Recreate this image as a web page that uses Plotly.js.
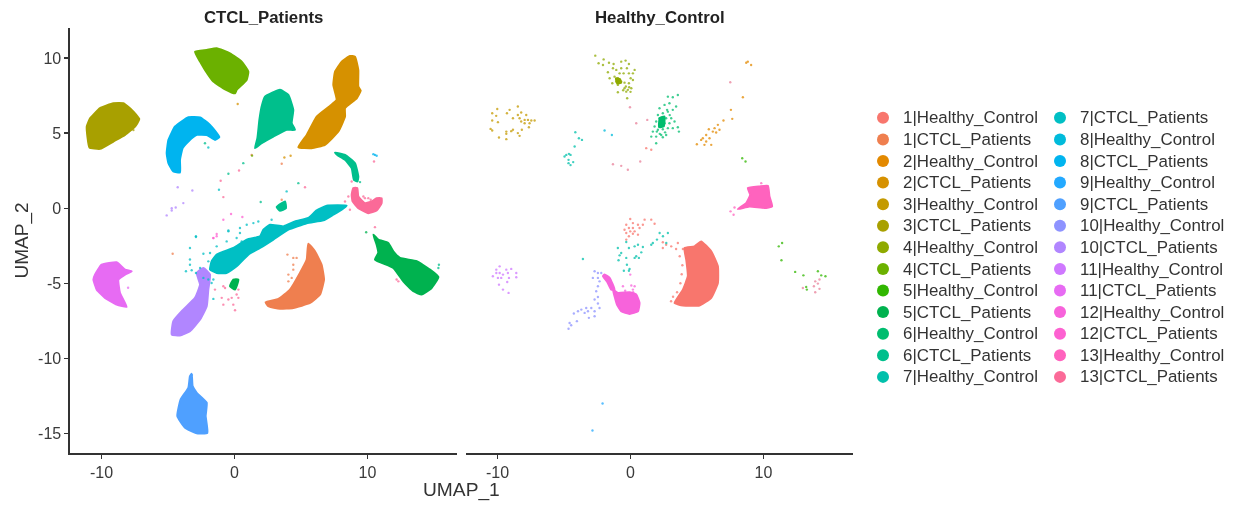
<!DOCTYPE html>
<html><head><meta charset="utf-8">
<script src="https://cdn.plot.ly/plotly-3.0.1.min.js"></script>
<style>html,body{margin:0;padding:0;background:#fff}#chart{width:1236px;height:506px;filter:blur(0.55px)}
#chart .legendtext,#chart .legend2text{font-size:16.9px !important}
#chart .scrollbox{clip-path:none !important}
#chart .legendpoints path{opacity:1 !important}
</style>
</head><body><div id="chart"></div>
<script>
const legendLabels=["1|Healthy_Control","1|CTCL_Patients","2|Healthy_Control","2|CTCL_Patients","3|Healthy_Control","3|CTCL_Patients","4|Healthy_Control","4|CTCL_Patients","5|Healthy_Control","5|CTCL_Patients","6|Healthy_Control","6|CTCL_Patients","7|Healthy_Control","7|CTCL_Patients","8|Healthy_Control","8|CTCL_Patients","9|Healthy_Control","9|CTCL_Patients","10|Healthy_Control","10|CTCL_Patients","11|Healthy_Control","11|CTCL_Patients","12|Healthy_Control","12|CTCL_Patients","13|Healthy_Control","13|CTCL_Patients"];
const palette=["#F8766D","#EF7F4F","#E38900","#D69100","#C49A00","#A8A000","#8FAA00","#6BB100","#31B700","#00B24F","#00BD6F","#00BF8C","#00C0AB","#00BFC4","#00BBDB","#00B4EF","#23A9FF","#4FA0FF","#8E93FF","#B186FF","#CF78FF","#E76BF3","#F763DB","#FD61D1","#FF63BE","#FB6A98"];

/* Cluster outlines, [UMAP_1, UMAP_2] */
const body1Ctcl=[[5.55,-2.36],[6.05,-2.87],[6.55,-3.76],[6.73,-4.75],[6.43,-5.75],[5.68,-6.31],[4.42,-6.64],[3.42,-6.7],[2.54,-6.53],[2.34,-6.26],[3.3,-6.04],[4.17,-5.42],[4.92,-4.31],[5.43,-3.42]];
const body2Ctcl=[[8.68,10.14],[9.06,10.09],[9.31,9.2],[9.31,8.1],[9.49,7.83],[9.19,7.32],[8.31,6.66],[8.31,6.1],[7.81,5.11],[6.8,4.22],[5.8,4.0],[4.8,4.06],[5.43,4.88],[6.18,6.1],[7.18,6.81],[7.68,7.21],[7.43,8.21],[7.56,9.09],[8.06,9.76]];
const body3Ctcl=[[-11.11,5.44],[-10.86,5.99],[-10.11,6.66],[-9.11,6.99],[-8.36,6.99],[-7.73,6.55],[-7.16,5.93],[-7.48,5.44],[-8.23,4.88],[-9.11,4.44],[-10.11,3.95],[-10.91,4.04],[-11.06,4.77]];
const body4Ctcl=[[-2.97,10.42],[-2.09,10.54],[-1.34,10.65],[-0.34,10.31],[0.54,9.76],[1.04,9.09],[0.91,8.54],[0.16,7.88],[0.04,7.65],[-0.71,7.92],[-1.59,8.43],[-2.22,9.21],[-2.59,9.76]];
const body5Ctcl=[[10.44,-1.76],[10.81,-2.09],[11.56,-2.32],[11.94,-2.87],[12.44,-3.31],[13.7,-3.53],[14.7,-4.09],[15.33,-4.58],[14.82,-5.31],[14.07,-5.75],[13.45,-5.53],[12.69,-4.87],[11.94,-3.98],[10.56,-3.42],[10.81,-2.98],[10.69,-2.43]];
const body6Ctcl=[[2.29,7.43],[3.42,7.88],[4.05,7.54],[4.42,6.55],[4.3,5.66],[4.55,5.22],[3.92,5.22],[2.92,4.77],[2.04,4.33],[1.54,4.0],[1.72,4.66],[1.87,5.88],[2.04,6.77]];
const arc6Ctcl=[[7.56,3.71],[8.31,3.55],[9.06,3.0],[9.31,2.11],[9.24,1.78],[8.98,1.89],[8.81,2.67],[8.31,3.22],[7.73,3.55]];
const spot6Ctcl=[[3.17,0.07],[3.8,0.45],[3.87,0],[3.42,-0.17]];
const spotLow6Ctcl=[[-0.09,-4.75],[0.29,-4.75],[0.04,-5.42],[-0.34,-5.2]];
const body7Ctcl=[[8.43,0.17],[6.93,0.17],[6.18,-0.14],[5.55,-0.65],[4.55,-0.88],[3.67,-1.21],[2.67,-1.1],[2.17,-1.43],[1.92,-1.87],[0.92,-2.09],[-0.09,-2.65],[-1.34,-3.09],[-1.72,-3.54],[-1.84,-4.09],[-1.34,-4.31],[-0.59,-4.31],[0.16,-3.87],[1.04,-3.09],[1.92,-2.65],[2.92,-2.09],[4.05,-1.43],[5.43,-1.0],[6.68,-0.81],[7.43,-0.43],[8.06,-0.1]];
const body8Ctcl=[[-5.1,3.66],[-4.97,4.55],[-4.47,5.44],[-3.47,6.06],[-2.59,6.04],[-1.84,5.55],[-1.14,4.73],[-1.47,4.55],[-2.09,4.88],[-2.84,4.88],[-3.47,4.44],[-3.9,4.0],[-4.1,3.22],[-4.1,2.38],[-4.6,2.45],[-4.97,3.0]];
const body9Ctcl=[[-3.22,-11.03],[-3.15,-11.85],[-2.84,-12.29],[-2.09,-12.95],[-2.17,-13.84],[-2.04,-14.95],[-2.84,-14.99],[-3.72,-14.62],[-4.3,-13.84],[-4.05,-12.73],[-3.47,-11.96],[-3.35,-11.18]];
const body10Ctcl=[[-2.34,-3.98],[-1.84,-4.42],[-1.97,-5.42],[-2.09,-6.53],[-2.59,-7.41],[-3.35,-8.19],[-4.1,-8.48],[-4.72,-8.41],[-4.6,-7.52],[-3.85,-6.75],[-2.97,-5.97],[-2.59,-5.09],[-2.84,-4.31]];
const body11Ctcl=[[-10.49,-4.42],[-9.99,-3.76],[-8.86,-3.6],[-8.23,-4.09],[-7.73,-4.2],[-8.23,-4.42],[-8.73,-4.75],[-8.61,-5.64],[-8.11,-6.57],[-8.86,-6.42],[-9.74,-5.97],[-10.36,-5.42],[-10.61,-4.75]];
const body13Ctcl=[[8.93,1.34],[9.23,1.34],[9.31,0.78],[9.81,0.34],[10.31,0.45],[10.69,0.67],[11.06,0.67],[11.06,0.34],[10.69,-0.15],[10.06,-0.33],[9.31,0],[8.88,0.45],[8.81,0.9]];
const body1Hc=[[5.31,-2.21],[6.07,-2.87],[6.57,-3.87],[6.57,-4.98],[6.07,-5.97],[5.19,-6.48],[3.94,-6.48],[3.31,-6.31],[3.94,-5.42],[4.31,-4.53],[4.19,-3.42],[4.06,-2.65],[4.81,-2.54]];
const body12Hc=[[-1.32,-5.42],[-0.95,-5.64],[-0.07,-5.6],[0.43,-5.75],[0.68,-6.31],[0.56,-6.86],[-0.07,-7.04],[-0.7,-6.86],[-1.02,-6.42],[-1.2,-5.86]];
const tail12Hc=[[-1.95,-4.42],[-1.57,-4.64],[-1.2,-5.42],[-1.45,-5.42],[-1.77,-4.87],[-2.07,-4.53]];
const body13Hc=[[8.82,1.34],[9.7,1.45],[10.33,1.49],[10.45,0.78],[10.65,0.12],[10.08,0.01],[8.95,0.12],[8.07,-0.06],[8.7,0.34],[9.0,0.89]];
const core4Hc=[[-1.1,8.65],[-0.8,8.6],[-0.7,8.35],[-1.0,8.3]];
const core6Hc=[[2.2,6.0],[2.55,6.1],[2.5,5.45],[2.15,5.4]];

/* Individual cells, [UMAP_1, UMAP_2] */
const cells1Ctcl=[[3.98,-3.09],[4.42,-3.31],[4.67,-3.31],[4.42,-3.76],[4.42,-4.09],[4.05,-4.42],[4.3,-4.64],[4.05,-4.87],[-4.65,-3.03],[1.29,3.55],[3.55,0.56],[3.55,2.96]];
const cells2Ctcl=[[0.24,6.94],[3.75,3.38],[4.22,3.49]];
const cells3Ctcl=[[-7.6,5.2]];
const cells4Ctcl=[[1.32,3.5]];
const cells5Ctcl=[[9.9,-1.6]];
const cells6Ctcl=[[4.8,1.67],[1.97,0.41],[-2.22,4.33],[0.66,3.0],[-0.46,2.29],[9.44,1.74],[15.37,-3.76],[15.33,-3.98]];
const cells7Ctcl=[[-2.9,-1.87],[-3.35,-2.65],[-2.34,-3.03],[-3.35,-3.42],[-3.35,-3.76],[-3.65,-4.2],[-3.22,-4.13],[-2.9,-4.31],[-2.59,-3.98],[-1.97,-3.54],[-1.84,-2.98],[-1.34,-2.54],[-0.46,-1.54],[0.41,-1.65],[-0.59,-2.21],[0.54,-2.21],[0.16,-1.98],[-1.59,-4.75],[-1.72,-4.98],[-1.97,-4.75],[-2.34,-4.64],[-1.59,-6.04],[-0.46,-1.48],[0.41,-1.32],[0.92,-1.1],[1.79,-0.88],[1.42,-0.99],[2.79,-0.77],[-2.9,-1.92],[-1.97,4.04],[-1.17,1.23],[3.92,1.12]];
const cells8Ctcl=[[10.56,3.55],[10.69,3.49],[10.44,3.6]];
const cells9Ctcl=[[-3.2,-11.1]];
const cells10Ctcl=[[-4.27,1.4],[-3.17,1.18],[-3.85,0.34],[-4.72,0],[-4.42,0.05],[-4.72,-0.15],[-5.1,-0.48]];
const cells11Ctcl=[[-8.0,-5.3]];
const cells12Ctcl=[[-1.34,-1.72],[-1.59,-1.99],[-1.34,-1.87],[-1.59,-1.98],[-0.26,-0.39],[-0.84,-0.77],[0.59,-0.59]];
const cells13Ctcl=[[-1.47,-5.42],[-0.84,-5.2],[-0.71,-5.31],[0.29,-5.42],[0.16,-5.75],[-0.21,-5.97],[-0.46,-6.08],[-0.84,-6.42],[0.29,-5.97],[-0.09,-6.42],[0.04,-6.79],[-0.96,-5.97],[8.81,1.78],[8.56,0.78],[8.31,0.45],[8.68,-0.1],[9.69,0.78],[9.81,0.67],[10.06,0.67],[10.24,0.56],[10.56,-1.26],[10.49,3.11],[12.19,-4.75],[12.32,-4.87],[-1.04,1.83],[0.34,2.51],[-0.84,0.74],[5.3,1.4]];
const cells1Hc=[[-0.02,-0.72],[-0.32,-1.1],[0.18,-0.99],[0.56,-1.1],[0.93,-1.1],[1.06,-0.76],[-0.45,-1.43],[-0.12,-1.32],[0.18,-1.32],[0.68,-1.32],[-0.32,-1.65],[-0.02,-1.54],[0.31,-1.54],[-0.12,-1.87],[0.18,-1.7],[0.56,-1.76],[1.56,-0.76],[1.81,-1.03],[-0.32,-2.09],[2.43,-2.27],[2.68,-2.43],[2.43,-2.65],[3.06,-2.54],[3.43,-2.72],[3.56,-2.32],[3.94,-2.72],[3.7,-3.2],[3.9,-3.8],[3.85,-4.4],[3.75,-5.0],[3.5,-5.6],[3.2,-5.9],[3.05,-6.2],[1.56,3.89],[1.18,4.0]];
const cells2Hc=[[8.82,9.76],[9.07,9.54],[8.7,9.69],[8.45,7.39],[7.55,6.55],[6.99,5.84],[7.65,5.95],[6.57,5.55],[6.69,5.22],[6.32,5.33],[6.44,5.04],[5.89,5.26],[6.19,5.1],[5.69,4.88],[5.94,4.66],[5.44,4.66],[5.69,4.44],[5.31,4.55],[6.07,4.22],[5.56,4.22],[4.99,4.26]];
const cells3Hc=[[-8.47,6.77],[-10.02,6.61],[-10.4,6.32],[-10.1,6.15],[-10.4,5.84],[-9.97,5.73],[-9.09,6.55],[-9.29,6.32],[-8.84,5.99],[-8.47,6.21],[-8.22,6.37],[-7.84,6.21],[-8.34,5.99],[-8.22,5.77],[-7.96,5.88],[-7.71,5.88],[-7.46,5.84],[-7.21,5.84],[-7.59,5.66],[-7.96,5.66],[-7.64,5.39],[-8.17,5.22],[-8.47,5],[-8.84,5.22],[-9.34,5.1],[-9.34,4.95],[-10.52,5.28],[-10.4,5.17],[-9.89,4.71],[-9.34,4.6],[-8.34,4.82],[-8.97,5.13]];
const cells4Hc=[[-2.65,10.16],[-2.02,9.91],[-2.4,9.65],[-2.07,9.54],[-1.62,9.69],[-1.27,9.6],[-0.7,9.76],[-0.37,9.83],[-0.12,9.6],[0.31,9.21],[-1.7,9.05],[-1.32,9.32],[-1.07,9.21],[-0.7,9.32],[-0.27,9.32],[-0.12,8.98],[0.18,8.98],[-1.57,8.65],[-1.2,8.76],[-0.95,8.65],[-0.82,8.54],[-1.07,8.43],[-0.7,8.43],[-0.45,8.36],[-0.12,8.32],[0.18,8.54],[-1.37,8.32],[-0.95,8.21],[-0.45,7.99],[-0.2,7.88],[0.06,7.99],[-0.32,7.76],[-0.95,7.72],[-0.25,7.32],[0.01,8.65],[-0.52,8.98],[-0.82,8.98],[-0.35,8.1],[-0.1,8.05],[-0.55,7.85],[0.0,7.75]];
const cells5Hc=[[11.4,-2.32],[11.15,-2.54],[11.35,-3.47],[12.38,-4.24],[13.0,-4.47],[14.09,-4.2],[14.34,-4.47],[14.66,-4.53],[13.21,-5.24],[13.26,-5.42],[8.4,3.33],[8.65,3.11]];
const cells6Hc=[[3.56,7.54],[3.18,7.39],[2.81,7.43],[3.43,6.77],[2.93,6.99],[2.56,6.88],[2.18,6.66],[3.18,6.55],[2.81,6.43],[2.43,6.32],[2.06,6.21],[3.06,5.99],[2.68,5.99],[2.31,5.88],[1.93,5.77],[3.31,5.77],[2.93,5.66],[2.56,5.66],[2.18,5.55],[1.81,5.44],[3.56,5.39],[3.18,5.33],[2.81,5.33],[2.43,5.26],[2.06,5.22],[1.68,5.1],[3.64,5.1],[2.68,4.88],[2.31,4.88],[1.93,4.77],[1.56,4.77],[1.93,4.33],[2.43,4.73],[2.18,5.99],[2.43,5.99],[2.31,5.66],[2.43,5.77],[2.95,6.2],[2.75,6.55],[1.98,5.1],[2.2,4.95],[2.6,5.05]];
const cells7Hc=[[-4.15,5.06],[-3.88,4.66],[-3.65,4.55],[-4.2,4.11],[-4.63,3.62],[-4.83,3.55],[-4.96,3.44],[-4.51,3.55],[-4.66,3.22],[-4.31,3.07],[-4.66,3.0],[-4.51,2.87],[-0.32,-2.25],[2.81,-1.65],[2.19,-1.65],[2.44,-1.87],[1.99,-2.09],[1.68,-2.32],[1.56,-2.43],[2.69,-2.32],[0.93,-2.58],[0.56,-2.43],[0.31,-2.54],[-0.12,-2.65],[-0.95,-2.65],[-0.7,-2.98],[-0.82,-3.14],[0.43,-3.2],[0.63,-3.31],[0.31,-3.31],[0.81,-2.94],[-0.32,-3.31],[-0.9,-3.47],[-0.27,-3.76],[-0.07,-4.04],[-0.5,-4.16],[-0.12,-4.16],[-3.58,-3.38]];
const cells8Hc=[[-1.95,5.17],[-1.4,4.88]];
const cells9Hc=[[-2.1,-13.0],[-2.86,-14.8]];
const cells10Hc=[[-2.7,-4.2],[-2.45,-4.31],[-2.2,-4.31],[-2.83,-4.64],[-2.45,-4.64],[-2.33,-4.87],[-2.45,-5.2],[-2.58,-5.53],[-2.45,-5.91],[-2.7,-6.08],[-2.45,-6.35],[-2.95,-6.64],[-2.7,-6.86],[-3.33,-6.64],[-3.7,-6.75],[-3.95,-6.86],[-4.26,-7.01],[-3.2,-6.86],[-3.45,-6.97],[-3.13,-7.3],[-2.7,-7.19],[-4.58,-7.64],[-4.46,-7.79],[-4.66,-8.03],[-4.03,-7.52],[-2.33,-6.64]];
const cells11Hc=[[-9.84,-3.87],[-9.34,-4.09],[-10.09,-4.31],[-9.84,-4.31],[-10.35,-4.53],[-9.97,-4.64],[-9.59,-4.42],[-9.22,-4.31],[-8.97,-4.04],[-8.59,-4.31],[-8.59,-4.6],[-9.14,-4.64],[-9.27,-4.91],[-9.89,-5.09],[-9.59,-5.42],[-9.17,-5.64],[-10.09,-4.09],[-9.72,-4.64]];
const cells12Hc=[[0.06,-5.15],[0.31,-5.2],[0.18,-5.42],[-0.57,-5.2],[-0.02,-4.42],[0.2,-5.6],[-0.4,-5.5]];
const cells13Hc=[[7.52,-0.21],[7.82,0.05],[7.75,-0.44],[9.83,1.67],[10.55,0.2]];
const cellsStrayHc=[[-0.04,6.72],[0.43,5.66],[1.26,5.88],[-1.32,2.93],[-0.7,2.82],[-0.2,2.56],[0.73,3.11],[7.5,8.39],[14.21,-4.75],[13.89,-4.87],[14.09,-5.02],[12.96,-5.31],[13.79,-5.2],[14.21,-5.37],[13.89,-5.6]];

const outlines=[
 [body1Ctcl,1],[body2Ctcl,3],[body3Ctcl,5],[body4Ctcl,7],[body5Ctcl,9],[body6Ctcl,11],[arc6Ctcl,11],[spot6Ctcl,11],[spotLow6Ctcl,9],[body7Ctcl,13],[body8Ctcl,15],[body9Ctcl,17],[body10Ctcl,19],[body11Ctcl,21],[body13Ctcl,25],
 [body1Hc,0],[body12Hc,22],[tail12Hc,22],[body13Hc,24],[core4Hc,6],[core6Hc,10]
];
const cellSets=[cells1Hc,cells1Ctcl,cells2Hc,cells2Ctcl,cells3Hc,cells3Ctcl,cells4Hc,cells4Ctcl,cells5Hc,cells5Ctcl,cells6Hc,cells6Ctcl,cells7Hc,cells7Ctcl,cells8Hc,cells8Ctcl,cells9Hc,cells9Ctcl,cells10Hc,cells10Ctcl,cells11Hc,cells11Ctcl,cells12Hc,cells12Ctcl,cells13Hc,cells13Ctcl];

const traces=[];
const axisFor=k=>k%2===0?'x2':'x';
outlines.forEach(([pts,k])=>{
  const closed=pts.concat([pts[0]]);
  traces.push({
    type:'scatter',mode:'lines',x:closed.map(p=>p[0]),y:closed.map(p=>p[1]),xaxis:axisFor(k),yaxis:'y',
    fill:'toself',fillcolor:palette[k],line:{color:palette[k],width:2,shape:'spline',smoothing:0.4,simplify:false},
    showlegend:false,hoverinfo:'skip'
  });
});
traces.push({type:'scatter',mode:'markers',x:cellsStrayHc.map(p=>p[0]),y:cellsStrayHc.map(p=>p[1]),xaxis:'x2',yaxis:'y',
  marker:{size:2.4,color:'#E8809A',opacity:0.75},showlegend:false,hoverinfo:'skip'});
cellSets.forEach((pts,k)=>traces.push({
  type:'scatter',mode:'markers',name:legendLabels[k],x:pts.map(p=>p[0]),y:pts.map(p=>p[1]),xaxis:axisFor(k),yaxis:'y',
  marker:{size:2.4,color:palette[k],opacity:0.75},legend:k<13?'legend':'legend2'
}));

const xTicks=[-10,0,10];
const yTicks=[-15,-10,-5,0,5,10];
const ink='#333333';
const tickFont={family:'"Liberation Sans",Arial,sans-serif',size:16,color:'#3a3a3a'};
const xAxisBase={range:[-12.37,16.73],tickvals:xTicks,ticktext:xTicks.map(String),ticks:'outside',ticklen:4,tickwidth:1.3,tickcolor:ink,
  showline:true,linecolor:ink,linewidth:1.6,showgrid:false,zeroline:false,tickfont:tickFont,anchor:'y'};
const legendBase={font:{family:'"Liberation Sans",Arial,sans-serif',size:14.3,color:'#333'},itemsizing:'constant',bgcolor:'rgba(0,0,0,0)',
  entrywidth:140,entrywidthmode:'pixels',xanchor:'left',yanchor:'top',y:1-102/506,traceorder:'normal',tracegroupgap:0};
const layout={
  width:1236,height:506,margin:{l:0,r:0,t:0,b:0},paper_bgcolor:'#fff',plot_bgcolor:'#fff',showlegend:true,
  xaxis:Object.assign({},xAxisBase,{domain:[70/1236,457/1236]}),
  xaxis2:Object.assign({},xAxisBase,{domain:[466/1236,853/1236]}),
  yaxis:{domain:[1-453/506,1-28/506],range:[-16.3,12],tickvals:yTicks,ticktext:yTicks.map(String),ticks:'outside',ticklen:4,tickwidth:1.3,tickcolor:ink,
    showline:true,linecolor:ink,linewidth:1.6,showgrid:false,zeroline:false,tickfont:tickFont,anchor:'x',
    title:{text:'UMAP_2',font:{family:'"Liberation Sans",Arial,sans-serif',size:19,color:'#333'},standoff:4}},
  legend:Object.assign({},legendBase,{x:863/1236}),
  legend2:Object.assign({},legendBase,{x:1040/1236}),
  annotations:[
    {text:'<b>CTCL_Patients</b>',xref:'paper',yref:'paper',x:263.5/1236,y:1-17/506,showarrow:false,xanchor:'center',yanchor:'middle',font:{family:'"Liberation Sans",Arial,sans-serif',size:16.8,color:'#222'}},
    {text:'<b>Healthy_Control</b>',xref:'paper',yref:'paper',x:660/1236,y:1-17/506,showarrow:false,xanchor:'center',yanchor:'middle',font:{family:'"Liberation Sans",Arial,sans-serif',size:16.8,color:'#222'}},
    {text:'UMAP_1',xref:'paper',yref:'paper',x:461/1236,y:1-490/506,showarrow:false,xanchor:'center',yanchor:'middle',font:{family:'"Liberation Sans",Arial,sans-serif',size:19.2,color:'#333'}}
  ]
};
Plotly.newPlot('chart',traces,layout,{displayModeBar:false,staticPlot:true});
</script></body></html>
